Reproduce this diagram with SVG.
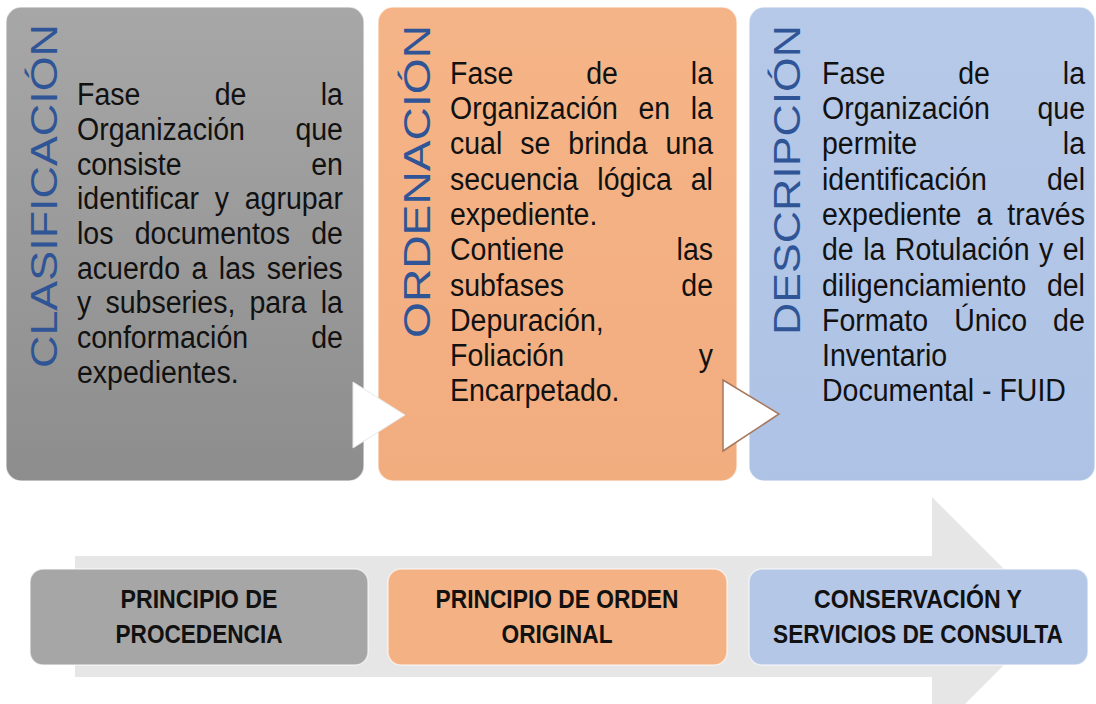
<svg xmlns="http://www.w3.org/2000/svg" width="1096" height="704" viewBox="0 0 1096 704">
  <defs>
    <linearGradient id="gGray" x1="0" y1="0" x2="0" y2="1">
      <stop offset="0" stop-color="#a7a7a7"/>
      <stop offset="1" stop-color="#8d8d8d"/>
    </linearGradient>
    <linearGradient id="gOrange" x1="0" y1="0" x2="0" y2="1">
      <stop offset="0" stop-color="#f5b487"/>
      <stop offset="1" stop-color="#f2ad7f"/>
    </linearGradient>
    <linearGradient id="gBlue" x1="0" y1="0" x2="0" y2="1">
      <stop offset="0" stop-color="#b7c9e8"/>
      <stop offset="1" stop-color="#adc2e5"/>
    </linearGradient>
  </defs>
  <style>
    .body { font-family: "Liberation Sans", Arial, sans-serif; font-size: 31px; fill: #111111; }
    .title { font-family: "Liberation Sans", Arial, sans-serif; font-size: 36px; fill: #2f5597; }
    .lbl { font-family: "Liberation Sans", Arial, sans-serif; font-size: 25px; font-weight: bold; fill: #111; text-anchor: middle; }
    .end { text-anchor: end; }
    .card { stroke: #ffffff; stroke-opacity: 0.6; stroke-width: 1.5; }
  </style>
  <rect width="1096" height="704" fill="#ffffff"/>

  <g id="background-arrow">
    <polygon points="75,556 932,556 932,497 1052,617 932,737 932,677 75,677" fill="#e6e6e6"/>
  </g>

  <g id="clasificacion">
    <rect class="card" x="6" y="7" width="358" height="474" rx="15" fill="url(#gGray)"/>
    <text class="title" transform="translate(57,368) rotate(-90)" textLength="344" lengthAdjust="spacingAndGlyphs">CLASIFICACIÓN</text>
    <g transform="translate(77,0) scale(0.92,1)">
      <text class="body" y="105"><tspan x="0">Fase</tspan><tspan x="149.7">de</tspan><tspan x="289.1" class="end">la</tspan></text>
      <text class="body" y="140"><tspan x="0">Organización</tspan><tspan x="289.1" class="end">que</tspan></text>
      <text class="body" y="175"><tspan x="0">consiste</tspan><tspan x="289.1" class="end">en</tspan></text>
      <text class="body" x="0" y="209" word-spacing="8.5">identificar y agrupar</text>
      <text class="body" x="0" y="244" word-spacing="14.5">los documentos de</text>
      <text class="body" x="0" y="279" word-spacing="3.9">acuerdo a las series</text>
      <text class="body" x="0" y="313" word-spacing="6.8">y subseries, para la</text>
      <text class="body" y="348"><tspan x="0">conformación</tspan><tspan x="289.1" class="end">de</tspan></text>
      <text class="body" x="0" y="383">expedientes.</text>
    </g>
  </g>

  <g id="ordenacion">
    <rect class="card" x="378" y="7" width="359" height="474" rx="15" fill="url(#gOrange)"/>
    <text class="title" transform="translate(430,338) rotate(-90)" textLength="313" lengthAdjust="spacingAndGlyphs">ORDENACIÓN</text>
    <g transform="translate(450,0) scale(0.92,1)">
      <text class="body" y="84"><tspan x="0">Fase</tspan><tspan x="148.1">de</tspan><tspan x="285.9" class="end">la</tspan></text>
      <text class="body" x="0" y="119" word-spacing="13.7">Organización en la</text>
      <text class="body" x="0" y="154" word-spacing="10.9">cual se brinda una</text>
      <text class="body" x="0" y="190" word-spacing="12">secuencia lógica al</text>
      <text class="body" x="0" y="225">expediente.</text>
      <text class="body" y="260"><tspan x="0">Contiene</tspan><tspan x="285.9" class="end">las</tspan></text>
      <text class="body" y="296"><tspan x="0">subfases</tspan><tspan x="285.9" class="end">de</tspan></text>
      <text class="body" x="0" y="331">Depuración,</text>
      <text class="body" y="366"><tspan x="0">Foliación</tspan><tspan x="285.9" class="end">y</tspan></text>
      <text class="body" x="0" y="401">Encarpetado.</text>
    </g>
  </g>

  <g id="descripcion">
    <rect class="card" x="749" y="7" width="346" height="474" rx="15" fill="url(#gBlue)"/>
    <text class="title" transform="translate(800,335) rotate(-90)" textLength="310" lengthAdjust="spacingAndGlyphs">DESCRIPCIÓN</text>
    <g transform="translate(822,0) scale(0.92,1)">
      <text class="body" y="84"><tspan x="0">Fase</tspan><tspan x="148.1">de</tspan><tspan x="285.9" class="end">la</tspan></text>
      <text class="body" y="119"><tspan x="0">Organización</tspan><tspan x="285.9" class="end">que</tspan></text>
      <text class="body" y="154"><tspan x="0">permite</tspan><tspan x="285.9" class="end">la</tspan></text>
      <text class="body" y="190"><tspan x="0">identificación</tspan><tspan x="285.9" class="end">del</tspan></text>
      <text class="body" x="0" y="225" word-spacing="7.7">expediente a través</text>
      <text class="body" x="0" y="260" word-spacing="1.7">de la Rotulación y el</text>
      <text class="body" x="0" y="296" word-spacing="13.7">diligenciamiento del</text>
      <text class="body" x="0" y="331" word-spacing="19.7">Formato Único de</text>
      <text class="body" x="0" y="366">Inventario</text>
      <text class="body" x="0" y="401">Documental - FUID</text>
    </g>
  </g>

  <g id="connectors">
    <polygon points="353,382 405,415 353,448" fill="#ffffff" stroke="#e8e8e8" stroke-width="1"/>
    <polygon points="723,380 779,414 723,451" fill="#ffffff" stroke="#a8775c" stroke-width="1.5"/>
  </g>

  <g id="principio-procedencia">
    <rect class="card" x="30" y="569" width="338" height="96" rx="13" fill="#a6a6a6"/>
    <text class="lbl" x="199" y="608" textLength="157" lengthAdjust="spacingAndGlyphs">PRINCIPIO DE</text>
    <text class="lbl" x="199" y="643" textLength="167" lengthAdjust="spacingAndGlyphs">PROCEDENCIA</text>
  </g>
  <g id="principio-orden-original">
    <rect class="card" x="388" y="569" width="339" height="96" rx="13" fill="#f4b183"/>
    <text class="lbl" x="557" y="608" textLength="243" lengthAdjust="spacingAndGlyphs">PRINCIPIO DE ORDEN</text>
    <text class="lbl" x="557" y="643" textLength="111" lengthAdjust="spacingAndGlyphs">ORIGINAL</text>
  </g>
  <g id="conservacion">
    <rect class="card" x="749" y="569" width="339" height="96" rx="13" fill="#b4c7e7"/>
    <text class="lbl" x="918" y="608" textLength="208" lengthAdjust="spacingAndGlyphs">CONSERVACIÓN Y</text>
    <text class="lbl" x="918" y="643" textLength="290" lengthAdjust="spacingAndGlyphs">SERVICIOS DE CONSULTA</text>
  </g>
</svg>
